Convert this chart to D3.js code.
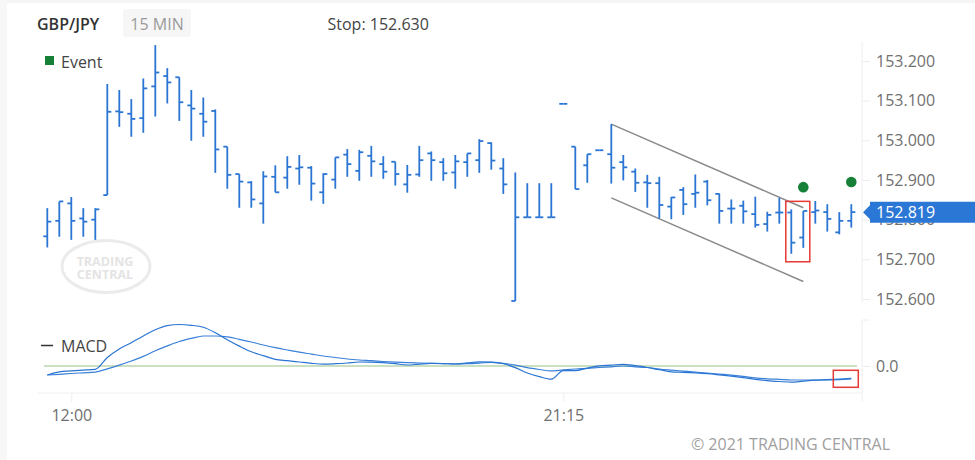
<!DOCTYPE html>
<html>
<head>
<meta charset="utf-8">
<script src="https://cdn.jsdelivr.net/npm/d3@7"></script>
<style>
  html, body { margin: 0; padding: 0; background: #fff; }
  svg { display: block; font-family: "Open Sans", "Noto Sans", sans-serif; }
</style>
</head>
<body>
<svg id="chart" width="975" height="460"></svg>
<script>
// ---------------- DATA ----------------
const symbol = "GBP/JPY";
const period = "15 MIN";
const stopText = "Stop: 152.630";
const lastPrice = 152.819;

const open  = [152.758,152.797,152.841,152.803,152.800,152.862,153.073,153.067,153.056,153.136,
               153.162,153.159,153.088,153.067,153.074,152.984,152.915,152.894,152.841,152.908,
               152.906,152.929,152.931,152.869,152.901,152.964,152.923,152.961,152.940,152.946,
               152.889,152.914,152.967,152.945,152.919,152.945,152.950,152.993,152.929,152.595,
               152.806,152.806,152.806,153.092,152.984,152.937,152.975,152.965,152.945,152.921,
               152.894,152.892,152.833,152.875,152.865,152.896,152.865,152.828,152.835,152.814,
               152.789,152.818,152.818,152.755,152.819,152.819,152.768,152.797];
const high  = [152.829,152.846,152.857,152.829,152.829,153.142,153.127,153.104,153.156,153.240,
               153.182,153.159,153.127,153.108,153.078,152.984,152.915,152.897,152.922,152.937,
               152.960,152.963,152.935,152.917,152.957,152.978,152.976,152.986,152.960,152.946,
               152.938,152.986,152.972,152.955,152.963,152.967,153.003,152.995,152.955,152.919,
               152.892,152.892,152.892,153.092,152.984,152.965,152.975,153.041,152.963,152.929,
               152.913,152.908,152.857,152.882,152.914,152.900,152.866,152.851,152.848,152.858,
               152.820,152.855,152.826,152.822,152.847,152.839,152.819,152.839];
const low   = [152.730,152.757,152.749,152.757,152.749,152.862,153.034,153.009,153.019,153.060,
               153.093,153.049,152.999,153.009,152.918,152.878,152.830,152.830,152.790,152.869,
               152.878,152.888,152.848,152.840,152.878,152.908,152.898,152.908,152.903,152.886,
               152.868,152.908,152.898,152.898,152.878,152.908,152.918,152.926,152.865,152.595,
               152.806,152.806,152.806,153.092,152.877,152.893,152.975,152.891,152.899,152.870,
               152.830,152.803,152.801,152.812,152.830,152.836,152.790,152.790,152.790,152.780,
               152.770,152.790,152.714,152.729,152.790,152.770,152.763,152.780];
const close = [152.795,152.846,152.797,152.795,152.826,153.072,153.071,153.054,153.131,153.171,
               153.146,153.096,153.080,153.047,152.977,152.913,152.896,152.851,152.909,152.869,
               152.933,152.932,152.891,152.915,152.957,152.940,152.970,152.947,152.921,152.915,
               152.913,152.950,152.950,152.917,152.947,152.967,152.998,152.949,152.889,152.806,
               152.806,152.806,152.806,153.092,152.877,152.965,152.975,152.931,152.932,152.893,
               152.892,152.837,152.856,152.839,152.868,152.849,152.822,152.828,152.821,152.787,
               152.812,152.818,152.742,152.822,152.823,152.802,152.797,152.819];

const macd   = [-0.0180,-0.0116,-0.0098,-0.0082,-0.0066,0.0170,0.0340,0.0466,0.0600,0.0726,
                0.0808,0.0830,0.0814,0.0774,0.0666,0.0526,0.0398,0.0284,0.0208,0.0134,
                0.0106,0.0080,0.0054,0.0038,0.0046,0.0060,0.0080,0.0078,0.0066,0.0046,
                0.0020,0.0038,0.0054,0.0048,0.0040,0.0062,0.0082,0.0078,0.0046,-0.0032,
                -0.0140,-0.0212,-0.0264,-0.0094,-0.0094,-0.0042,0.0004,0.0018,0.0034,0.0006,
                -0.0030,-0.0074,-0.0116,-0.0126,-0.0138,-0.0154,-0.0178,-0.0204,-0.0234,-0.0266,
                -0.0292,-0.0310,-0.0324,-0.0302,-0.0282,-0.0272,-0.0260,-0.0246];
const signal = [-0.0180,-0.0166,-0.0150,-0.0136,-0.0122,-0.0056,0.0018,0.0100,0.0192,0.0304,
                0.0402,0.0490,0.0552,0.0600,0.0600,0.0584,0.0534,0.0480,0.0420,0.0366,
                0.0320,0.0276,0.0238,0.0200,0.0170,0.0140,0.0120,0.0106,0.0090,0.0076,
                0.0066,0.0060,0.0054,0.0048,0.0042,0.0046,0.0058,0.0074,0.0052,0.0018,
                -0.0034,-0.0070,-0.0098,-0.0078,-0.0060,-0.0046,-0.0030,-0.0016,0.0000,-0.0016,
                -0.0030,-0.0060,-0.0082,-0.0102,-0.0122,-0.0140,-0.0162,-0.0184,-0.0208,-0.0236,
                -0.0256,-0.0268,-0.0280,-0.0280,-0.0280,-0.0280,-0.0274,-0.0260];

const priceTicks = [152.6, 152.7, 152.8, 152.9, 153.0, 153.1, 153.2];
const macdTicks = [0];
const timeTickIndex = [2, 43];
const timeTickLabels = ["12:00", "21:15"];

const eventIndex = [63, 67];
const eventPrice = [152.882, 152.895];

const channelIndex = [47, 63];
const channelUpper = [153.041, 152.830];
const channelLower = [152.855, 152.644];

const highlightBars = [62, 63];

// ---------------- DRAWING ----------------
const svg = d3.select("#chart");
const n = close.length;
const idx = d3.range(n);

const x = d3.scaleLinear().domain([0, n - 1]).range([47.3, 851.3]);
const y = d3.scaleLinear().domain([152.6, 153.2]).range([299, 61]);
const ym = d3.scaleLinear().domain([-0.054, 0.092]).range([393, 320]);

const blue = "#2a75d3";
const textGray = "#707070";

// page frame
svg.append("rect").attr("x", 0).attr("y", 0).attr("width", 975).attr("height", 460).attr("fill", "#fff");
svg.append("rect").attr("x", 0).attr("y", 0).attr("width", 975).attr("height", 3).attr("fill", "#f5f5f5");
svg.append("rect").attr("x", 0).attr("y", 0).attr("width", 7).attr("height", 460).attr("fill", "#f7f7f7");

// header
svg.append("text").attr("x", 37).attr("y", 30).attr("font-size", 16).attr("font-weight", 600)
  .attr("fill", "#333").text(symbol);
svg.append("rect").attr("x", 123).attr("y", 9).attr("width", 68).attr("height", 28).attr("rx", 3)
  .attr("fill", "#f6f6f6");
svg.append("text").attr("x", 157).attr("y", 30).attr("text-anchor", "middle").attr("font-size", 16)
  .attr("fill", "#9a9a9a").text(period);
svg.append("text").attr("x", 327.5).attr("y", 30).attr("font-size", 16).attr("fill", "#444").text(stopText);

// watermark
const wm = svg.append("g");
wm.append("ellipse").attr("cx", 106).attr("cy", 266.5).attr("rx", 44).attr("ry", 26)
  .attr("fill", "none").attr("stroke", "#ebebeb").attr("stroke-width", 3);
wm.append("text").attr("x", 105).attr("y", 266).attr("text-anchor", "middle").attr("font-size", 12.5)
  .attr("font-weight", 700).attr("fill", "#e4e4e4").text("TRADING");
wm.append("text").attr("x", 105).attr("y", 278.5).attr("text-anchor", "middle").attr("font-size", 12.5)
  .attr("font-weight", 700).attr("fill", "#e4e4e4").text("CENTRAL");

// legend
svg.append("rect").attr("x", 45).attr("y", 56).attr("width", 9).attr("height", 9).attr("fill", "#168039");
svg.append("text").attr("x", 61).attr("y", 68).attr("font-size", 16).attr("fill", "#444").text("Event");

// right price axis
svg.append("line").attr("x1", 862).attr("x2", 862).attr("y1", 42).attr("y2", 303)
  .attr("stroke", "#eeeeee").attr("stroke-width", 1);
const yAxis = svg.append("g").attr("transform", "translate(862,0)")
  .call(d3.axisRight(y).tickValues(priceTicks).tickFormat(d3.format(".3f")).tickSize(8).tickPadding(6));
yAxis.select(".domain").remove();
yAxis.selectAll(".tick line").attr("stroke", "#eeeeee");
yAxis.selectAll(".tick text").attr("font-size", 16).attr("fill", textGray)
  .attr("font-family", "'Open Sans', 'Noto Sans', sans-serif");

// channel lines
svg.append("line").attr("x1", x(channelIndex[0])).attr("x2", x(channelIndex[1]))
  .attr("y1", y(channelUpper[0])).attr("y2", y(channelUpper[1]))
  .attr("stroke", "#8a8a8a").attr("stroke-width", 1.5);
svg.append("line").attr("x1", x(channelIndex[0])).attr("x2", x(channelIndex[1]))
  .attr("y1", y(channelLower[0])).attr("y2", y(channelLower[1]))
  .attr("stroke", "#8a8a8a").attr("stroke-width", 1.5);

// OHLC bars
const bars = svg.append("g").attr("stroke", blue).attr("stroke-width", 1.8);
idx.forEach(i => {
  const cx = x(i);
  if (high[i] !== low[i]) {
    bars.append("line").attr("x1", cx).attr("x2", cx).attr("y1", y(high[i])).attr("y2", y(low[i]));
  }
  bars.append("line").attr("x1", cx - 4).attr("x2", cx).attr("y1", y(open[i])).attr("y2", y(open[i]));
  bars.append("line").attr("x1", cx).attr("x2", cx + 4).attr("y1", y(close[i])).attr("y2", y(close[i]));
});

// highlight box
const hbHigh = d3.max(highlightBars, i => high[i]);
const hbLow = d3.min(highlightBars, i => low[i]);
svg.append("rect")
  .attr("x", x(highlightBars[0]) - 5.5)
  .attr("y", y(hbHigh) - 8)
  .attr("width", x(highlightBars[1]) - x(highlightBars[0]) + 12)
  .attr("height", y(hbLow) - y(hbHigh) + 16)
  .attr("fill", "none").attr("stroke", "#e53935").attr("stroke-width", 1.5);

// events
svg.selectAll(".ev").data(eventIndex).enter().append("circle")
  .attr("cx", d => x(d)).attr("cy", (d, k) => y(eventPrice[k])).attr("r", 5.3).attr("fill", "#168039");

// last price marker
const yl = y(lastPrice);
svg.append("path")
  .attr("d", `M863,${yl} L870,${yl - 7} L870,${yl - 10.5} L975,${yl - 10.5} L975,${yl + 10.5} L870,${yl + 10.5} L870,${yl + 7} Z`)
  .attr("fill", "#2b77d6");
svg.append("text").attr("x", 876).attr("y", yl + 6).attr("font-size", 16).attr("fill", "#fff").text(lastPrice.toFixed(3));

// ---------------- MACD panel ----------------
svg.append("line").attr("x1", 41).attr("x2", 53).attr("y1", 345.5).attr("y2", 345.5)
  .attr("stroke", "#333").attr("stroke-width", 1.5);
svg.append("text").attr("x", 61).attr("y", 352).attr("font-size", 16).attr("fill", "#444").text("MACD");

// zero line
svg.append("line").attr("x1", 44).attr("x2", 857).attr("y1", ym(0)).attr("y2", ym(0))
  .attr("stroke", "#b9d6ad").attr("stroke-width", 1.5);

// right macd axis
svg.append("line").attr("x1", 862).attr("x2", 862).attr("y1", 320).attr("y2", 402)
  .attr("stroke", "#eeeeee");
svg.append("line").attr("x1", 862).attr("x2", 870).attr("y1", 320).attr("y2", 320)
  .attr("stroke", "#eeeeee");
const ymAxis = svg.append("g").attr("transform", "translate(862,0)")
  .call(d3.axisRight(ym).tickValues(macdTicks).tickFormat(d3.format(".1f")).tickSize(8).tickPadding(6));
ymAxis.select(".domain").remove();
ymAxis.selectAll(".tick line").attr("stroke", "#eeeeee");
ymAxis.selectAll(".tick text").attr("font-size", 16).attr("fill", textGray)
  .attr("font-family", "'Open Sans', 'Noto Sans', sans-serif");

const line = d3.line().x((d, i) => x(i)).y(d => ym(d)).curve(d3.curveMonotoneX);
svg.append("path").datum(signal).attr("d", line).attr("fill", "none").attr("stroke", "#3a80d8").attr("stroke-width", 1.2);
svg.append("path").datum(macd).attr("d", line).attr("fill", "none").attr("stroke", "#2a75d3").attr("stroke-width", 1.2);

// end marker box on macd
const lastM = ym(macd[n - 1]);
svg.append("rect").attr("x", x(n - 1) - 18).attr("y", lastM - 8).attr("width", 25).attr("height", 17)
  .attr("fill", "none").attr("stroke", "#e53935").attr("stroke-width", 1.5);

// time axis
svg.append("line").attr("x1", 37).attr("x2", 862).attr("y1", 393).attr("y2", 393)
  .attr("stroke", "#f0f0f0");
const xAxis = svg.append("g").attr("transform", "translate(0,393)")
  .call(d3.axisBottom(x).tickValues(timeTickIndex).tickFormat((d, k) => timeTickLabels[k]).tickSize(9).tickPadding(8));
xAxis.select(".domain").remove();
xAxis.selectAll(".tick line").attr("stroke", "#eeeeee");
xAxis.selectAll(".tick text").attr("font-size", 16).attr("fill", textGray)
  .attr("font-family", "'Open Sans', 'Noto Sans', sans-serif");

// copyright
svg.append("text").attr("x", 890).attr("y", 450).attr("text-anchor", "end").attr("font-size", 16)
  .attr("fill", "#a0a0a0").text("© 2021 TRADING CENTRAL");
</script>
</body>
</html>
